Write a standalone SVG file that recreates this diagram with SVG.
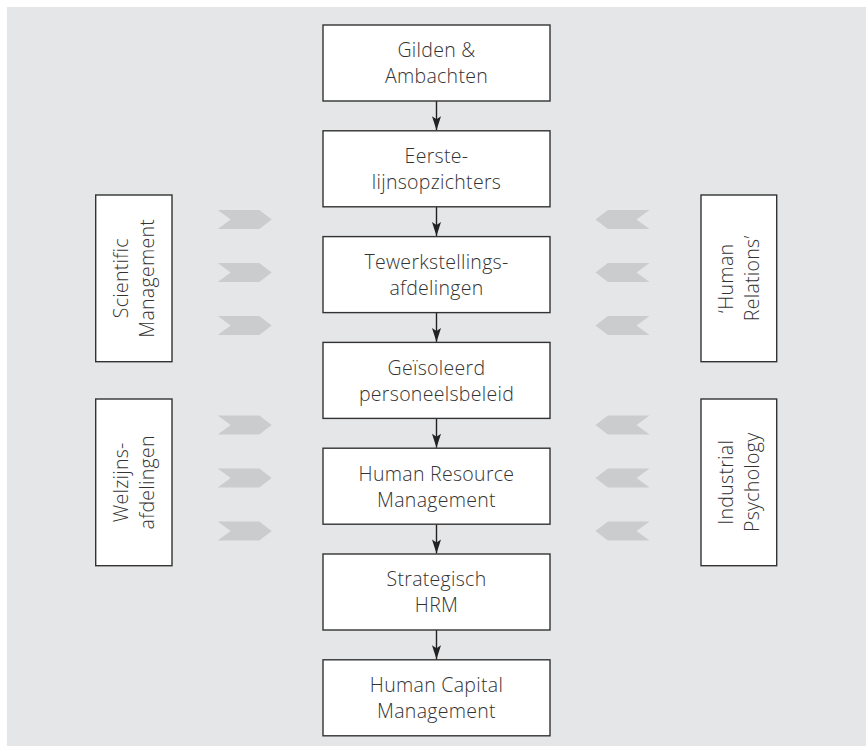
<svg xmlns="http://www.w3.org/2000/svg" width="866" height="746" viewBox="0 0 866 746">
<defs>
<style>
.box{fill:#fff;stroke:#333;stroke-width:1.4}
.t{font-family:"Open Sans","Liberation Sans",sans-serif;font-weight:300;font-size:19.5px;fill:#333;text-anchor:middle;letter-spacing:0.3px}
.chev{fill:#cbcccd}
.conn{stroke:#222;stroke-width:1.4;fill:none;marker-end:url(#ah)}
</style>
<marker id="ah" markerUnits="userSpaceOnUse" viewBox="-15 -5 16 10" markerWidth="16" markerHeight="10" refX="0" refY="0" orient="auto">
<path d="M0,0 L-14,-4.5 L-11,0 L-14,4.5 Z" fill="#222"/>
</marker>
<path id="chR" d="M-27,-9.5 H14.6 L27,0 L14.6,9.5 H-27 L-14,0 Z"/>
<path id="chL" d="M27,-9.5 H-14.6 L-27,0 L-14.6,9.5 H27 L14,0 Z"/>
</defs>
<rect x="7" y="7" width="859" height="739" fill="#e5e6e8"/>

<g id="chevrons" class="chev">
<use href="#chR" x="244.7" y="219.5"/>
<use href="#chR" x="244.7" y="272.5"/>
<use href="#chR" x="244.7" y="325.5"/>
<use href="#chR" x="244.7" y="425"/>
<use href="#chR" x="244.7" y="478"/>
<use href="#chR" x="244.7" y="531"/>
<use href="#chL" x="622.5" y="219.5"/>
<use href="#chL" x="622.5" y="272.5"/>
<use href="#chL" x="622.5" y="325.5"/>
<use href="#chL" x="622.5" y="425"/>
<use href="#chL" x="622.5" y="478"/>
<use href="#chL" x="622.5" y="531"/>
</g>

<g id="connectors">
<line class="conn" x1="436.5" y1="101" x2="436.5" y2="130.3"/>
<line class="conn" x1="436.5" y1="206.8" x2="436.5" y2="236.1"/>
<line class="conn" x1="436.5" y1="312.6" x2="436.5" y2="341.9"/>
<line class="conn" x1="436.5" y1="418.4" x2="436.5" y2="447.7"/>
<line class="conn" x1="436.5" y1="524.2" x2="436.5" y2="553.5"/>
<line class="conn" x1="436.5" y1="630" x2="436.5" y2="659.3"/>
</g>

<g id="gilden">
<rect class="box" x="323" y="25" width="227" height="76"/>
<text class="t"><tspan x="436.5" y="57.3">Gilden &amp;</tspan><tspan x="436.5" y="83.3">Ambachten</tspan></text>
</g>
<g id="eerstelijns">
<rect class="box" x="323" y="130.8" width="227" height="76"/>
<text class="t"><tspan x="436.5" y="163.1">Eerste-</tspan><tspan x="436.5" y="189.1">lijnsopzichters</tspan></text>
</g>
<g id="tewerkstelling">
<rect class="box" x="323" y="236.6" width="227" height="76"/>
<text class="t"><tspan x="436.5" y="268.9">Tewerkstellings-</tspan><tspan x="436.5" y="294.9">afdelingen</tspan></text>
</g>
<g id="geisoleerd">
<rect class="box" x="323" y="342.4" width="227" height="76"/>
<text class="t"><tspan x="436.5" y="374.7">Geïsoleerd</tspan><tspan x="436.5" y="400.7">personeelsbeleid</tspan></text>
</g>
<g id="hrm">
<rect class="box" x="323" y="448.2" width="227" height="76"/>
<text class="t"><tspan x="436.5" y="480.5">Human Resource</tspan><tspan x="436.5" y="506.5">Management</tspan></text>
</g>
<g id="strategisch">
<rect class="box" x="323" y="554" width="227" height="76"/>
<text class="t"><tspan x="436.5" y="586.3">Strategisch</tspan><tspan x="436.5" y="612.3">HRM</tspan></text>
</g>
<g id="hcm">
<rect class="box" x="323" y="659.8" width="227" height="76"/>
<text class="t"><tspan x="436.5" y="692.1">Human Capital</tspan><tspan x="436.5" y="718.1">Management</tspan></text>
</g>

<g id="scientific">
<rect class="box" x="95.7" y="195" width="76.3" height="166.7"/>
<text class="t" transform="translate(133.9,278.3) rotate(-90)"><tspan x="0" y="-5.7">Scientific</tspan><tspan x="0" y="20.3">Management</tspan></text>
</g>
<g id="welzijns">
<rect class="box" x="95.7" y="399" width="76.3" height="166.7"/>
<text class="t" transform="translate(133.9,482.3) rotate(-90)"><tspan x="0" y="-5.7">Welzijns-</tspan><tspan x="0" y="20.3">afdelingen</tspan></text>
</g>
<g id="humanrelations">
<rect class="box" x="701" y="195" width="75.7" height="166.7"/>
<text class="t" transform="translate(738.8,278.3) rotate(-90)"><tspan x="0" y="-5.7">‘Human</tspan><tspan x="0" y="20.3">Relations’</tspan></text>
</g>
<g id="industrial">
<rect class="box" x="701" y="399" width="75.7" height="166.7"/>
<text class="t" transform="translate(738.8,482.3) rotate(-90)"><tspan x="0" y="-5.7">Industrial</tspan><tspan x="0" y="20.3">Psychology</tspan></text>
</g>
</svg>
